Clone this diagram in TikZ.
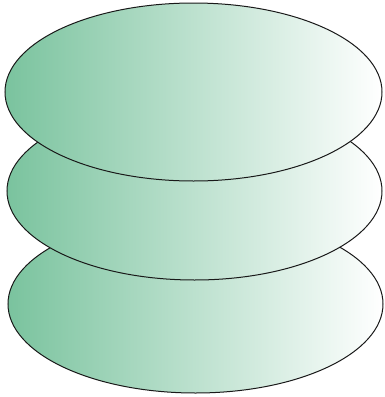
\documentclass[tikz,border=0pt]{standalone}
\begin{document}
\begin{tikzpicture}[x=1pt,y=-1pt,
  disk/.style={draw=black!90,line width=1pt,left color=green1,right color=white}]
\definecolor{green1}{RGB}{122,195,158}
\useasboundingbox (0,0) rectangle (384,397);
\draw[disk] (195.5,304) ellipse (187.5 and 89);
\draw[disk] (194.5,191) ellipse (187.5 and 89);
\draw[disk] (193.5,92) ellipse (188.5 and 89);
\end{tikzpicture}
\end{document}
